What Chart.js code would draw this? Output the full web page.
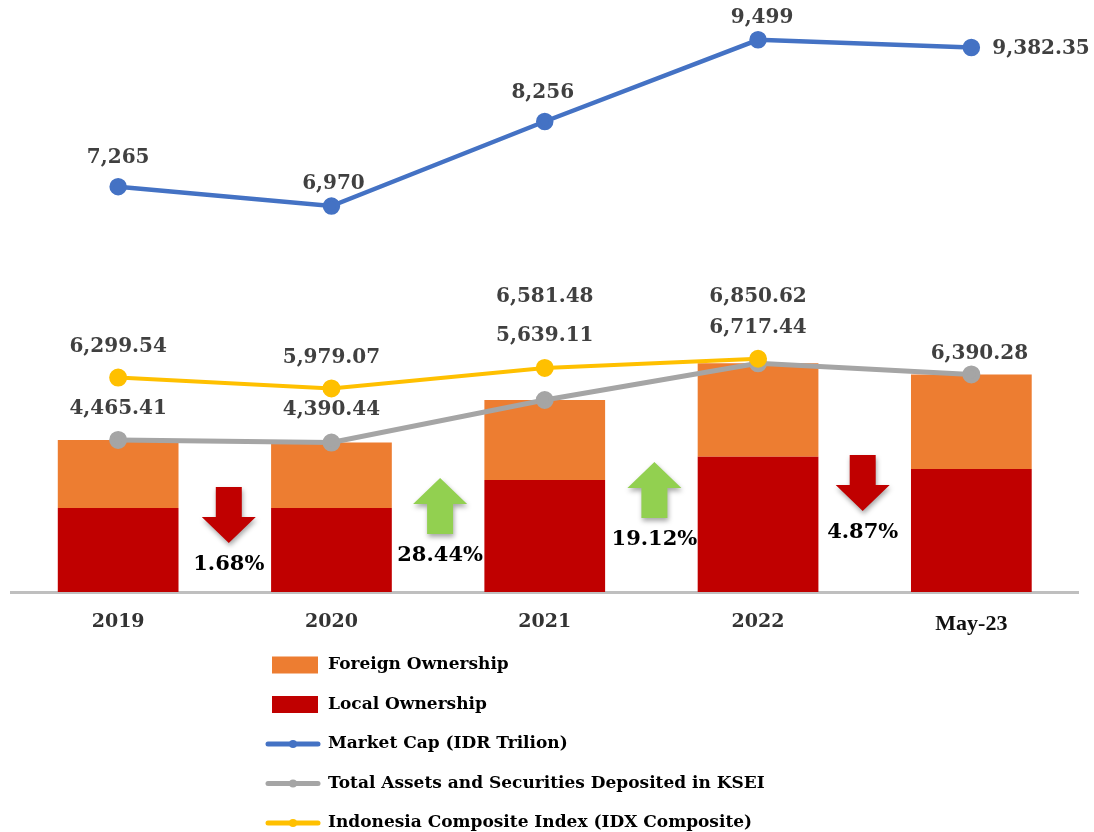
<!DOCTYPE html>
<html>
<head>
<meta charset="utf-8">
<script src="https://cdn.jsdelivr.net/npm/chart.js@4.4.1/dist/chart.umd.min.js"></script>
<style>
body{margin:0;background:#fff}
</style>
</head>
<body>
<canvas id="chart" width="1094" height="832"></canvas>
<script>
const labels = ["2019", "2020", "2021", "2022", "May-23"]
const localOwnership = [2468, 2468, 3290, 3975, 3613]
const foreignOwnership = [1997, 1922, 2349, 2742, 2777]
const marketCap = [7265, 6970, 8256, 9499, 9382.35]
const totalAssets = [4465.41, 4390.44, 5639.11, 6717.44, 6390.28]
const idxComposite = [6299.54, 5979.07, 6581.48, 6850.62, null]
const yearlyChange = [-1.68, 28.44, 19.12, -4.87]

const serif = "'DejaVu Serif', serif"

function fmt(v){
    return v.toLocaleString("en-US", {maximumFractionDigits: 2})
}

// numbers above the line points
const valueLabels = {
    id: "valueLabels",
    afterDatasetsDraw(chart){
        const ctx = chart.ctx
        ctx.save()
        ctx.font = "bold 20px " + serif
        ctx.fillStyle = "#404040"
        ctx.textBaseline = "middle"
        chart.data.datasets.forEach((ds, i) => {
            if(!ds.labelOffsets) return
            chart.getDatasetMeta(i).data.forEach((pt, j) => {
                const v = ds.data[j]
                if(v == null) return
                const off = ds.labelOffsets[j]
                ctx.textAlign = off[2] || "center"
                ctx.fillText(fmt(v), pt.x + off[0], pt.y + off[1])
            })
        })
        ctx.restore()
    }
}

// up / down arrows between the bars
const changeArrows = {
    id: "changeArrows",
    afterDatasetsDraw(chart, args, opts){
        const ctx = chart.ctx
        const x = chart.scales.x
        const bottom = chart.chartArea.bottom
        yearlyChange.forEach((c, i) => {
            const cx = (x.getPixelForValue(i) + x.getPixelForValue(i + 1)) / 2 + opts.shift[i]
            const top = bottom - opts.rise[i]
            const sw = 13, hw = 27, len = 56, hl = 26
            ctx.save()
            ctx.shadowColor = "rgba(0,0,0,0.35)"
            ctx.shadowBlur = 5
            ctx.shadowOffsetX = 1
            ctx.shadowOffsetY = 3
            ctx.fillStyle = c > 0 ? "#92D050" : "#C00000"
            ctx.beginPath()
            if(c > 0){
                ctx.moveTo(cx, top)
                ctx.lineTo(cx + hw, top + hl)
                ctx.lineTo(cx + sw, top + hl)
                ctx.lineTo(cx + sw, top + len)
                ctx.lineTo(cx - sw, top + len)
                ctx.lineTo(cx - sw, top + hl)
                ctx.lineTo(cx - hw, top + hl)
            }else{
                ctx.moveTo(cx - sw, top)
                ctx.lineTo(cx + sw, top)
                ctx.lineTo(cx + sw, top + len - hl)
                ctx.lineTo(cx + hw, top + len - hl)
                ctx.lineTo(cx, top + len)
                ctx.lineTo(cx - hw, top + len - hl)
                ctx.lineTo(cx - sw, top + len - hl)
            }
            ctx.closePath()
            ctx.fill()
            ctx.restore()

            ctx.save()
            ctx.font = "bold 21px " + serif
            ctx.fillStyle = "#000"
            ctx.textAlign = "center"
            ctx.textBaseline = "middle"
            ctx.fillText(Math.abs(c).toFixed(2) + "%", cx, top + len + 22)
            ctx.restore()
        })
    }
}

// stacked legend under the axis
const listLegend = {
    id: "listLegend",
    afterDraw(chart, args, opts){
        const ctx = chart.ctx
        ctx.save()
        ctx.font = "bold 17px " + serif
        ctx.textBaseline = "middle"
        opts.order.forEach((di, row) => {
            const ds = chart.data.datasets[di]
            const y = opts.top + row * opts.step
            if(ds.type === "line"){
                ctx.strokeStyle = ds.borderColor
                ctx.lineWidth = 5
                ctx.lineCap = "round"
                ctx.beginPath()
                ctx.moveTo(opts.x, y)
                ctx.lineTo(opts.x + 50, y)
                ctx.stroke()
                ctx.fillStyle = ds.borderColor
                ctx.beginPath()
                ctx.arc(opts.x + 25, y, 4, 0, Math.PI * 2)
                ctx.fill()
            }else{
                ctx.fillStyle = ds.backgroundColor
                ctx.fillRect(opts.x + 4, y - 8.5, 46, 17)
            }
            ctx.fillStyle = "#000"
            ctx.textAlign = "left"
            ctx.fillText(ds.label, opts.textX, y)
        })
        ctx.restore()
    }
}

new Chart(document.getElementById("chart"), {
    type: "bar",
    data: {
        labels: labels,
        datasets: [
            {
                type: "line",
                label: "Market Cap (IDR Trilion)",
                data: marketCap,
                yAxisID: "yCap",
                borderColor: "#4472C4",
                backgroundColor: "#4472C4",
                borderWidth: 4.5,
                pointRadius: 6.5,
                order: 0,
                labelOffsets: [[0, -29], [2, -22], [-2, -29], [4, -22], [21, 1, "left"]]
            },
            {
                type: "line",
                label: "Indonesia Composite Index (IDX Composite)",
                data: idxComposite,
                yAxisID: "yLine",
                borderColor: "#FFC000",
                backgroundColor: "#FFC000",
                borderWidth: 4,
                pointRadius: 7,
                order: 1,
                labelOffsets: [[0, -31], [0, -31], [0, -71], [0, -62], [0, 0]]
            },
            {
                type: "line",
                label: "Total Assets and Securities Deposited in KSEI",
                data: totalAssets,
                yAxisID: "yLine",
                borderColor: "#A5A5A5",
                backgroundColor: "#A5A5A5",
                borderWidth: 5,
                pointRadius: 6.5,
                order: 2,
                labelOffsets: [[0, -31], [0, -33], [0, -64], [0, -35], [8, -21]]
            },
            {
                label: "Local Ownership",
                data: localOwnership,
                yAxisID: "y",
                backgroundColor: "#C00000",
                barPercentage: 1,
                categoryPercentage: 0.566,
                order: 3
            },
            {
                label: "Foreign Ownership",
                data: foreignOwnership,
                yAxisID: "y",
                backgroundColor: "#ED7D31",
                barPercentage: 1,
                categoryPercentage: 0.566,
                order: 3
            }
        ]
    },
    options: {
        responsive: false,
        animation: false,
        layout: {padding: {left: 8, right: 16, top: 20, bottom: 0}},
        plugins: {
            legend: {display: false},
            tooltip: {enabled: false},
            changeArrows: {rise: [105, 114, 130, 137], shift: [4, 2, 3, -2]},
            listLegend: {order: [4, 3, 0, 2, 1], x: 268, textX: 328, top: 665, step: 39.5}
        },
        scales: {
            x: {
                stacked: true,
                grid: {display: false, drawTicks: false},
                border: {display: true, color: "#BFBFBF", width: 3},
                ticks: {
                    padding: 19,
                    color: c => c.index === 4 ? "#111" : "#333",
                    font: c => c.index === 4
                        ? {family: "'Liberation Serif', serif", size: 22, weight: "bold"}
                        : {family: serif, size: 19, weight: "bold"}
                },
                afterFit(s){ s.height = 240 }
            },
            y: {stacked: true, display: false, min: 0, max: 16800},
            yLine: {display: false, min: 0, max: 16800},
            yCap: {display: false, min: 1100, max: 9800}
        }
    },
    plugins: [valueLabels, changeArrows, listLegend]
})
</script>
</body>
</html>
